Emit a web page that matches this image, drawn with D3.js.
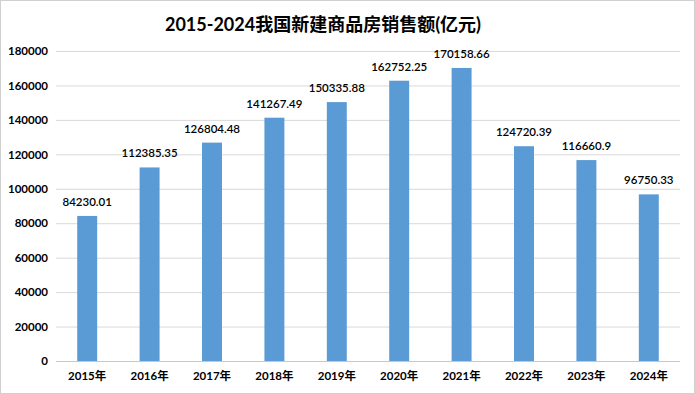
<!DOCTYPE html>
<html><head><meta charset="utf-8">
<script src="https://cdn.jsdelivr.net/npm/d3@7"></script>
<style>body{margin:0;background:#fff}</style>
</head><body>
<svg id="c" width="695" height="394"></svg>
<script>
const categories = ["2015年","2016年","2017年","2018年","2019年","2020年","2021年","2022年","2023年","2024年"];
const values = [84230.01,112385.35,126804.48,141267.49,150335.88,162752.25,170158.66,124720.39,116660.9,96750.33];
const labels = ["84230.01","112385.35","126804.48","141267.49","150335.88","162752.25","170158.66","124720.39","116660.9","96750.33"];
const yTicks = [0,20000,40000,60000,80000,100000,120000,140000,160000,180000];
const title = "2015-2024我国新建商品房销售额(亿元)";

const svg = d3.select("#c");
const font = "Lato, 'Noto Sans CJK SC', sans-serif";
svg.append("rect").attr("x",0.5).attr("y",0.5).attr("width",694).attr("height",393)
  .attr("fill","#fff").attr("stroke","#d0d0d0");

const x = d3.scaleBand().domain(categories).range([56,680]).paddingInner(0.68).paddingOuter(0.34);
const y = d3.scaleLinear().domain([0,180000]).range([361,51]);

const g = svg.append("g");
g.selectAll(".grid").data(yTicks).join("line")
  .attr("x1",56).attr("x2",680).attr("y1",d=>y(d)+0.5).attr("y2",d=>y(d)+0.5)
  .attr("stroke",d=>d===0?"#c8c8c8":"#d9d9d9").attr("stroke-width",1);

const ya = svg.append("g").attr("transform","translate(48,0)")
  .call(d3.axisLeft(y).tickValues(yTicks).tickSize(0).tickPadding(0).tickFormat(d3.format("d")));
ya.select(".domain").remove();
ya.selectAll("text").attr("font-family",font).attr("font-size",11.5).attr("font-weight","bold").attr("fill","#000");

g.selectAll(".bar").data(values).join("rect")
  .attr("x",(d,i)=>x(categories[i])).attr("width",x.bandwidth())
  .attr("y",d=>y(d)).attr("height",d=>y(0)-y(d)).attr("fill","#5B9BD5");

g.selectAll(".lbl").data(values).join("text")
  .attr("x",(d,i)=>x(categories[i])+x.bandwidth()/2).attr("y",d=>y(d)-10)
  .attr("text-anchor","middle").attr("font-family",font).attr("font-size",11.5).attr("font-weight","600")
  .attr("fill","#000").text((d,i)=>labels[i]);

const xa = svg.append("g").attr("transform","translate(0,361)")
  .call(d3.axisBottom(x).tickSize(0).tickPadding(11));
xa.select(".domain").remove();
xa.selectAll("text").attr("font-family",font).attr("font-size",11.5).attr("font-weight","bold").attr("fill","#000");

svg.append("text").attr("x",323).attr("y",31).attr("text-anchor","middle")
  .attr("font-family",font).attr("font-size",18).attr("font-weight","bold").attr("fill","#000").text(title);
</script>
</body></html>
